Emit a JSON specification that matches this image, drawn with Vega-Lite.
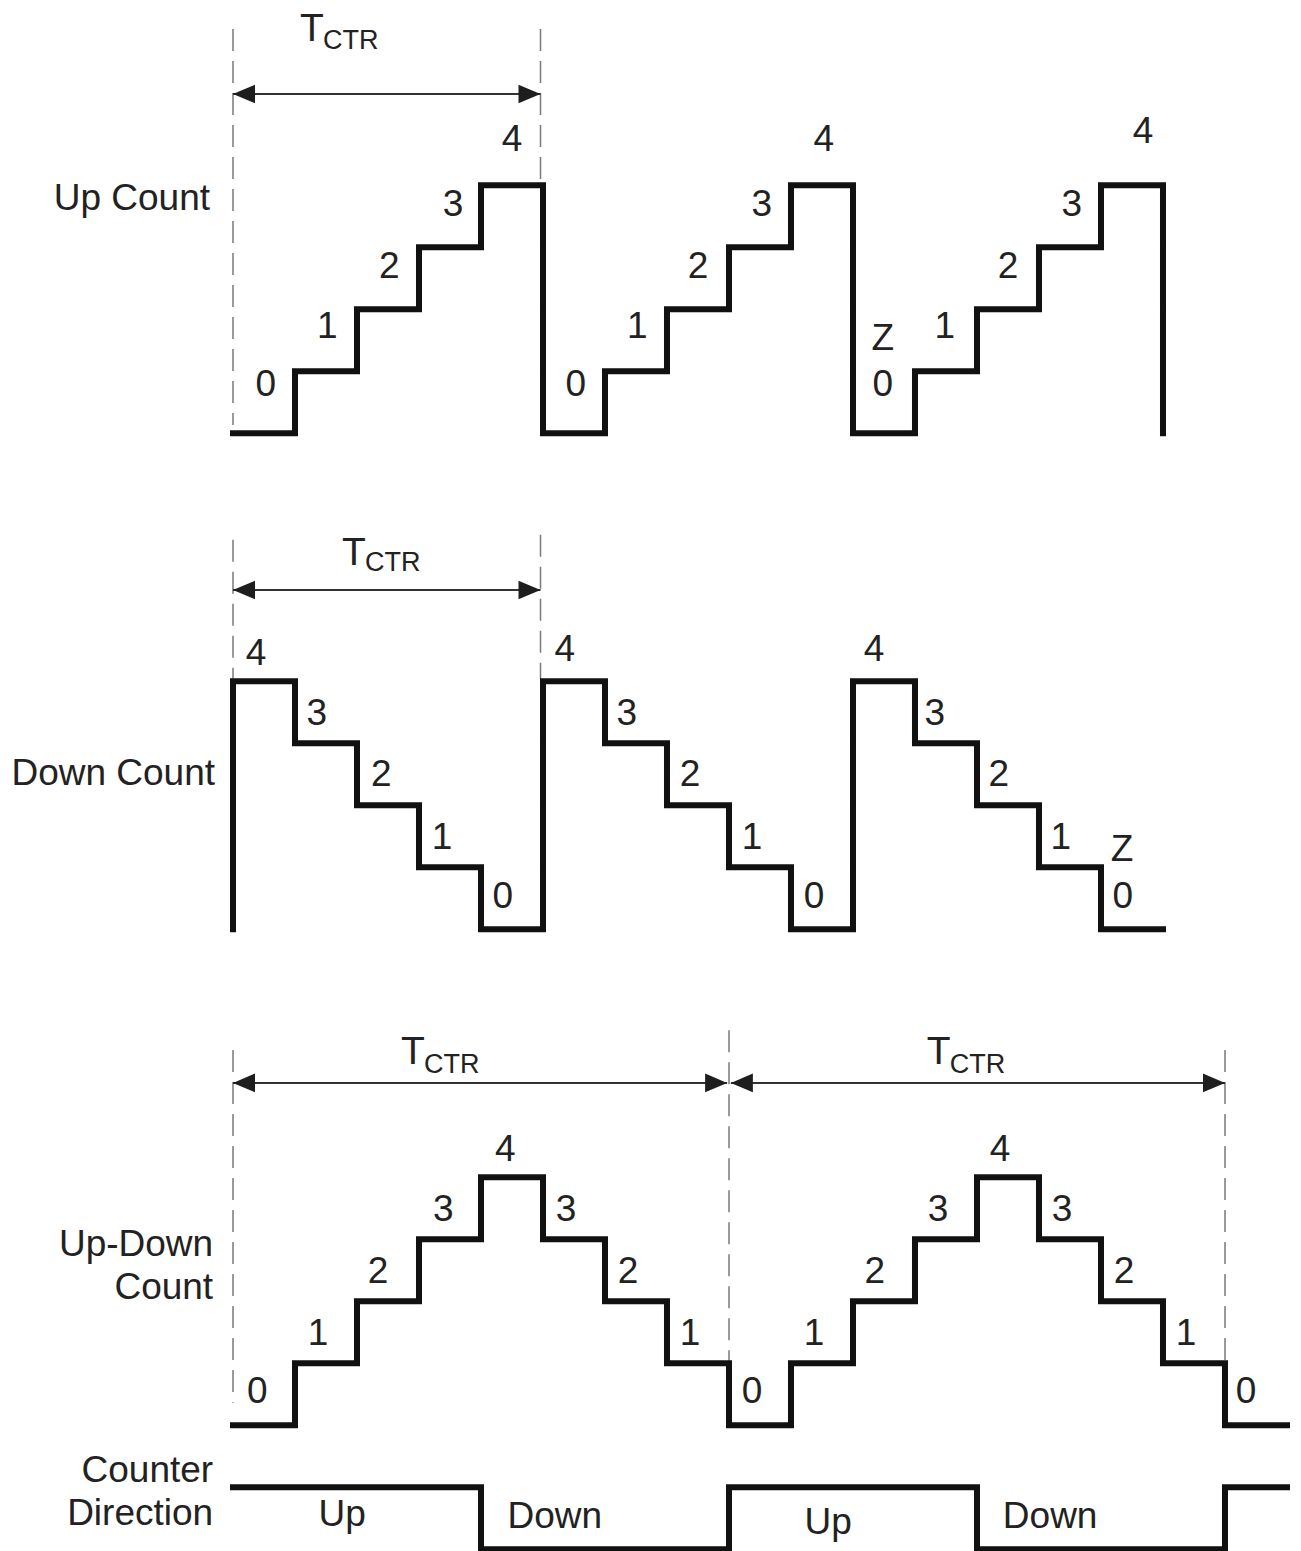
{
  "$schema": "https://vega.github.io/schema/vega-lite/v6.json",
  "width": 1301,
  "height": 1551,
  "autosize": {"type": "none"},
  "padding": 0,
  "background": "white",
  "config": {"view": {"stroke": null}},
  "datasets": {
    "guides": [
      {"t": 0, "y1": 24.52, "y2": 18.13},
      {"t": 4.96, "y1": 24.52, "y2": 22.08},
      {"t": 0, "y1": 16.28, "y2": 14.03},
      {"t": 4.96, "y1": 16.36, "y2": 14.03},
      {"t": 0, "y1": 8.05, "y2": 2.36},
      {"t": 8, "y1": 8.37, "y2": 3.0},
      {"t": 16, "y1": 8.05, "y2": 3.0}
    ],
    "spans": [
      {"t1": 0, "t2": 4.96, "y": 23.47},
      {"t1": 0, "t2": 4.96, "y": 15.47},
      {"t1": 0, "t2": 7.97, "y": 7.52},
      {"t1": 8.03, "t2": 16, "y": 7.52}
    ],
    "heads": [
      {"t": 0, "y": 23.47, "dir": "left"},
      {"t": 4.96, "y": 23.47, "dir": "right"},
      {"t": 0, "y": 15.47, "dir": "left"},
      {"t": 4.96, "y": 15.47, "dir": "right"},
      {"t": 0, "y": 7.52, "dir": "left"},
      {"t": 7.97, "y": 7.52, "dir": "right"},
      {"t": 8.03, "y": 7.52, "dir": "left"},
      {"t": 16, "y": 7.52, "dir": "right"}
    ],
    "waves": [
      {"sig": "up", "t": 0, "y": 18}, {"sig": "up", "t": 1, "y": 19}, {"sig": "up", "t": 2, "y": 20}, {"sig": "up", "t": 3, "y": 21},
      {"sig": "up", "t": 4, "y": 22}, {"sig": "up", "t": 5, "y": 18}, {"sig": "up", "t": 6, "y": 19}, {"sig": "up", "t": 7, "y": 20},
      {"sig": "up", "t": 8, "y": 21}, {"sig": "up", "t": 9, "y": 22}, {"sig": "up", "t": 10, "y": 18}, {"sig": "up", "t": 11, "y": 19},
      {"sig": "up", "t": 12, "y": 20}, {"sig": "up", "t": 13, "y": 21}, {"sig": "up", "t": 14, "y": 22}, {"sig": "up", "t": 15, "y": 18},
      {"sig": "down", "t": 0, "y": 10}, {"sig": "down", "t": 0, "y": 14}, {"sig": "down", "t": 1, "y": 13}, {"sig": "down", "t": 2, "y": 12},
      {"sig": "down", "t": 3, "y": 11}, {"sig": "down", "t": 4, "y": 10}, {"sig": "down", "t": 5, "y": 14}, {"sig": "down", "t": 6, "y": 13},
      {"sig": "down", "t": 7, "y": 12}, {"sig": "down", "t": 8, "y": 11}, {"sig": "down", "t": 9, "y": 10}, {"sig": "down", "t": 10, "y": 14},
      {"sig": "down", "t": 11, "y": 13}, {"sig": "down", "t": 12, "y": 12}, {"sig": "down", "t": 13, "y": 11}, {"sig": "down", "t": 14, "y": 10},
      {"sig": "down", "t": 15, "y": 10},
      {"sig": "updown", "t": 0, "y": 2}, {"sig": "updown", "t": 1, "y": 3}, {"sig": "updown", "t": 2, "y": 4}, {"sig": "updown", "t": 3, "y": 5},
      {"sig": "updown", "t": 4, "y": 6}, {"sig": "updown", "t": 5, "y": 5}, {"sig": "updown", "t": 6, "y": 4}, {"sig": "updown", "t": 7, "y": 3},
      {"sig": "updown", "t": 8, "y": 2}, {"sig": "updown", "t": 9, "y": 3}, {"sig": "updown", "t": 10, "y": 4}, {"sig": "updown", "t": 11, "y": 5},
      {"sig": "updown", "t": 12, "y": 6}, {"sig": "updown", "t": 13, "y": 5}, {"sig": "updown", "t": 14, "y": 4}, {"sig": "updown", "t": 15, "y": 3},
      {"sig": "updown", "t": 16, "y": 2}, {"sig": "updown", "t": 17, "y": 2},
      {"sig": "dir", "t": 0, "y": 1}, {"sig": "dir", "t": 4, "y": 0}, {"sig": "dir", "t": 8, "y": 1}, {"sig": "dir", "t": 12, "y": 0},
      {"sig": "dir", "t": 16, "y": 1}, {"sig": "dir", "t": 17, "y": 1}
    ],
    "digits": [
      {"label": "0", "t": 0.53, "y": 18.81}, {"label": "1", "t": 1.52, "y": 19.74}, {"label": "2", "t": 2.52, "y": 20.71},
      {"label": "3", "t": 3.55, "y": 21.71}, {"label": "4", "t": 4.5, "y": 22.76},
      {"label": "0", "t": 5.53, "y": 18.81}, {"label": "1", "t": 6.52, "y": 19.74}, {"label": "2", "t": 7.5, "y": 20.71},
      {"label": "3", "t": 8.53, "y": 21.71}, {"label": "4", "t": 9.53, "y": 22.76},
      {"label": "Z", "t": 10.48, "y": 19.55}, {"label": "0", "t": 10.48, "y": 18.81}, {"label": "1", "t": 11.48, "y": 19.74},
      {"label": "2", "t": 12.5, "y": 20.71}, {"label": "3", "t": 13.53, "y": 21.71}, {"label": "4", "t": 14.68, "y": 22.89},
      {"label": "4", "t": 0.37, "y": 14.47}, {"label": "3", "t": 1.35, "y": 13.5}, {"label": "2", "t": 2.39, "y": 12.52},
      {"label": "1", "t": 3.37, "y": 11.5}, {"label": "0", "t": 4.35, "y": 10.55},
      {"label": "4", "t": 5.35, "y": 14.53}, {"label": "3", "t": 6.35, "y": 13.5}, {"label": "2", "t": 7.37, "y": 12.52},
      {"label": "1", "t": 8.37, "y": 11.5}, {"label": "0", "t": 9.37, "y": 10.55},
      {"label": "4", "t": 10.34, "y": 14.53}, {"label": "3", "t": 11.32, "y": 13.5}, {"label": "2", "t": 12.35, "y": 12.52},
      {"label": "1", "t": 13.35, "y": 11.5}, {"label": "Z", "t": 14.34, "y": 11.31}, {"label": "0", "t": 14.35, "y": 10.55},
      {"label": "0", "t": 0.39, "y": 2.57}, {"label": "1", "t": 1.37, "y": 3.5}, {"label": "2", "t": 2.34, "y": 4.5},
      {"label": "3", "t": 3.39, "y": 5.5}, {"label": "4", "t": 4.39, "y": 6.47}, {"label": "3", "t": 5.37, "y": 5.5},
      {"label": "2", "t": 6.37, "y": 4.5}, {"label": "1", "t": 7.37, "y": 3.5}, {"label": "0", "t": 8.37, "y": 2.57},
      {"label": "1", "t": 9.37, "y": 3.5}, {"label": "2", "t": 10.35, "y": 4.5}, {"label": "3", "t": 11.37, "y": 5.5},
      {"label": "4", "t": 12.37, "y": 6.47}, {"label": "3", "t": 13.37, "y": 5.5}, {"label": "2", "t": 14.37, "y": 4.5},
      {"label": "1", "t": 15.37, "y": 3.5}, {"label": "0", "t": 16.34, "y": 2.57},
      {"label": "Up", "t": 1.76, "y": 0.58}, {"label": "Down", "t": 5.19, "y": 0.55},
      {"label": "Up", "t": 9.6, "y": 0.46}, {"label": "Down", "t": 13.18, "y": 0.55}
    ],
    "names": [
      {"label": "Up Count", "t": -0.37, "y": 21.81},
      {"label": "Down Count", "t": -0.29, "y": 12.53},
      {"label": "Up-Down", "t": -0.32, "y": 4.94},
      {"label": "Count", "t": -0.32, "y": 4.24},
      {"label": "Counter", "t": -0.32, "y": 1.29},
      {"label": "Direction", "t": -0.32, "y": 0.6}
    ],
    "tbig": [
      {"label": "T", "t": 1.08, "y": 24.55},
      {"label": "T", "t": 1.76, "y": 16.1},
      {"label": "T", "t": 2.71, "y": 8.05},
      {"label": "T", "t": 11.19, "y": 8.05}
    ],
    "tsub": [
      {"label": "CTR", "t": 1.45, "y": 24.34},
      {"label": "CTR", "t": 2.13, "y": 15.92},
      {"label": "CTR", "t": 3.08, "y": 7.82},
      {"label": "CTR", "t": 11.56, "y": 7.82}
    ]
  },
  "layer": [
    {
      "data": {"name": "guides"},
      "mark": {"type": "rule", "color": "#7a7a7a", "strokeWidth": 1.5, "strokeDash": [22, 10]},
      "encoding": {
        "x": {"field": "t", "type": "quantitative", "scale": {"domain": [-3.758, 17.226], "nice": false, "zero": false}, "axis": null},
        "y": {"field": "y1", "type": "quantitative", "scale": {"domain": [-0.03, 24.986], "nice": false, "zero": false}, "axis": null},
        "y2": {"field": "y2"}
      }
    },
    {
      "data": {"name": "spans"},
      "mark": {"type": "rule", "color": "#333333", "strokeWidth": 2},
      "encoding": {
        "x": {"field": "t1", "type": "quantitative", "scale": {"domain": [-3.758, 17.226], "nice": false, "zero": false}, "axis": null},
        "x2": {"field": "t2"},
        "y": {"field": "y", "type": "quantitative", "scale": {"domain": [-0.03, 24.986], "nice": false, "zero": false}, "axis": null}
      }
    },
    {
      "data": {"name": "heads"},
      "mark": {"type": "point", "filled": true, "size": 484, "color": "#1e1e1e", "opacity": 1, "strokeWidth": 0},
      "encoding": {
        "x": {"field": "t", "type": "quantitative", "scale": {"domain": [-3.758, 17.226], "nice": false, "zero": false}, "axis": null},
        "y": {"field": "y", "type": "quantitative", "scale": {"domain": [-0.03, 24.986], "nice": false, "zero": false}, "axis": null},
        "shape": {"field": "dir", "type": "nominal", "scale": {"domain": ["left", "right"], "range": ["M0,0L2,-0.85L2,0.85Z", "M0,0L-2,-0.85L-2,0.85Z"]}, "legend": null}
      }
    },
    {
      "data": {"name": "waves"},
      "mark": {"type": "line", "interpolate": "step-after", "strokeWidth": 6, "color": "#111111", "strokeJoin": "miter", "strokeCap": "square"},
      "encoding": {
        "x": {"field": "t", "type": "quantitative", "scale": {"domain": [-3.758, 17.226], "nice": false, "zero": false}, "axis": null},
        "y": {"field": "y", "type": "quantitative", "scale": {"domain": [-0.03, 24.986], "nice": false, "zero": false}, "axis": null},
        "detail": {"field": "sig", "type": "nominal"},
        "order": {"value": null}
      }
    },
    {
      "data": {"name": "digits"},
      "mark": {"type": "text", "font": "Liberation Sans", "fontSize": 37, "color": "#222222", "align": "center", "baseline": "middle", "dy": 2},
      "encoding": {
        "x": {"field": "t", "type": "quantitative", "scale": {"domain": [-3.758, 17.226], "nice": false, "zero": false}, "axis": null},
        "y": {"field": "y", "type": "quantitative", "scale": {"domain": [-0.03, 24.986], "nice": false, "zero": false}, "axis": null},
        "text": {"field": "label"}
      }
    },
    {
      "data": {"name": "names"},
      "mark": {"type": "text", "font": "Liberation Sans", "fontSize": 37, "color": "#222222", "align": "right", "baseline": "middle", "dy": 2},
      "encoding": {
        "x": {"field": "t", "type": "quantitative", "scale": {"domain": [-3.758, 17.226], "nice": false, "zero": false}, "axis": null},
        "y": {"field": "y", "type": "quantitative", "scale": {"domain": [-0.03, 24.986], "nice": false, "zero": false}, "axis": null},
        "text": {"field": "label"}
      }
    },
    {
      "data": {"name": "tbig"},
      "mark": {"type": "text", "font": "Liberation Sans", "fontSize": 39, "color": "#222222", "align": "left", "baseline": "middle", "dy": 2},
      "encoding": {
        "x": {"field": "t", "type": "quantitative", "scale": {"domain": [-3.758, 17.226], "nice": false, "zero": false}, "axis": null},
        "y": {"field": "y", "type": "quantitative", "scale": {"domain": [-0.03, 24.986], "nice": false, "zero": false}, "axis": null},
        "text": {"field": "label"}
      }
    },
    {
      "data": {"name": "tsub"},
      "mark": {"type": "text", "font": "Liberation Sans", "fontSize": 27, "color": "#222222", "align": "left", "baseline": "middle", "dy": 1},
      "encoding": {
        "x": {"field": "t", "type": "quantitative", "scale": {"domain": [-3.758, 17.226], "nice": false, "zero": false}, "axis": null},
        "y": {"field": "y", "type": "quantitative", "scale": {"domain": [-0.03, 24.986], "nice": false, "zero": false}, "axis": null},
        "text": {"field": "label"}
      }
    }
  ]
}
